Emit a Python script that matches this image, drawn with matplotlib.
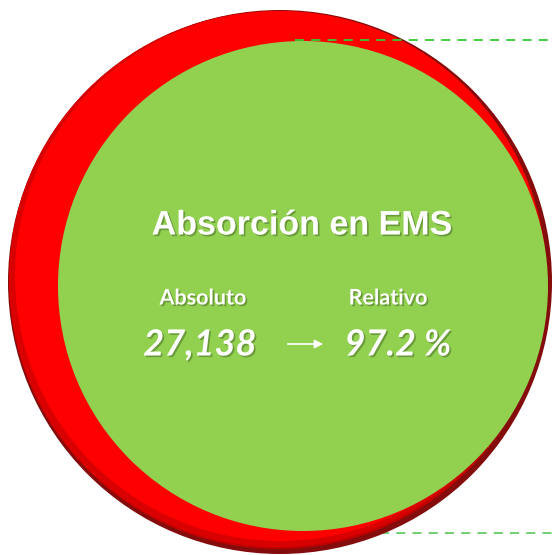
import matplotlib
matplotlib.use("Agg")
import matplotlib.pyplot as plt
from matplotlib.patches import Circle, FancyArrowPatch
import matplotlib.patheffects as pe

# ---- data ----
title = "Absorción en EMS"
labels = ["Absoluto", "Relativo"]
absolute_value = 27138
relative_value = 97.2

W, H = 553, 555
fig = plt.figure(figsize=(W / 100, H / 100), dpi=100)
ax = fig.add_axes([0, 0, 1, 1])
ax.set_xlim(0, W)
ax.set_ylim(H, 0)
ax.set_aspect("equal")
ax.axis("off")

# bottom dashed line (behind the red circle)
ax.plot([380, 553], [533, 533], color="#66cc66", lw=1.3, ls=(0, (5, 4)), zorder=0.5)

# red circle with bevel shading
ax.add_patch(Circle((280, 282), 272, color="#850c0c", zorder=1, lw=0))
ax.add_patch(Circle((278, 280), 269, color="#c00000", zorder=1.5, lw=0))
ax.add_patch(Circle((277, 279), 268, color="#d80000", zorder=2, lw=0))
ax.add_patch(Circle((280, 276), 265, color="#ff0000", zorder=3, lw=0))

# top dashed line (over red)
ax.plot([295, 553], [40, 40], color="#33cc33", lw=1.3, ls=(0, (5, 4)), zorder=4)

# green circle
ax.add_patch(Circle((303, 286), 245, color="#92d050", zorder=5, lw=0))

shadow = [pe.withSimplePatchShadow(offset=(1.2, -1.2), shadow_rgbFace="#3a5a20", alpha=0.45)]

ax.text(302, 226, title, color="white", fontsize=24.5, fontweight="bold",
        family="Liberation Sans", ha="center", va="center", zorder=6, path_effects=shadow)

ax.text(203, 298, labels[0], color="white", fontsize=15.5, fontweight="bold",
        family="Lato", ha="center", va="center", zorder=6, path_effects=shadow)
ax.text(388, 298, labels[1], color="white", fontsize=15.5, fontweight="bold",
        family="Lato", ha="center", va="center", zorder=6, path_effects=shadow)

ax.text(200, 345, f"{absolute_value:,}", color="white", fontsize=26, fontweight="bold",
        style="italic", family="Lato", ha="center", va="center", zorder=6, path_effects=shadow)
ax.text(398, 345, f"{relative_value:.1f} %", color="white", fontsize=26, fontweight="bold",
        style="italic", family="Lato", ha="center", va="center", zorder=6, path_effects=shadow)

ax.add_patch(FancyArrowPatch((285, 344), (326, 344), arrowstyle="-|>,head_length=5,head_width=2.5",
                             color="white", lw=1.2, zorder=6, mutation_scale=1))

fig.savefig("out.png", dpi=100)
